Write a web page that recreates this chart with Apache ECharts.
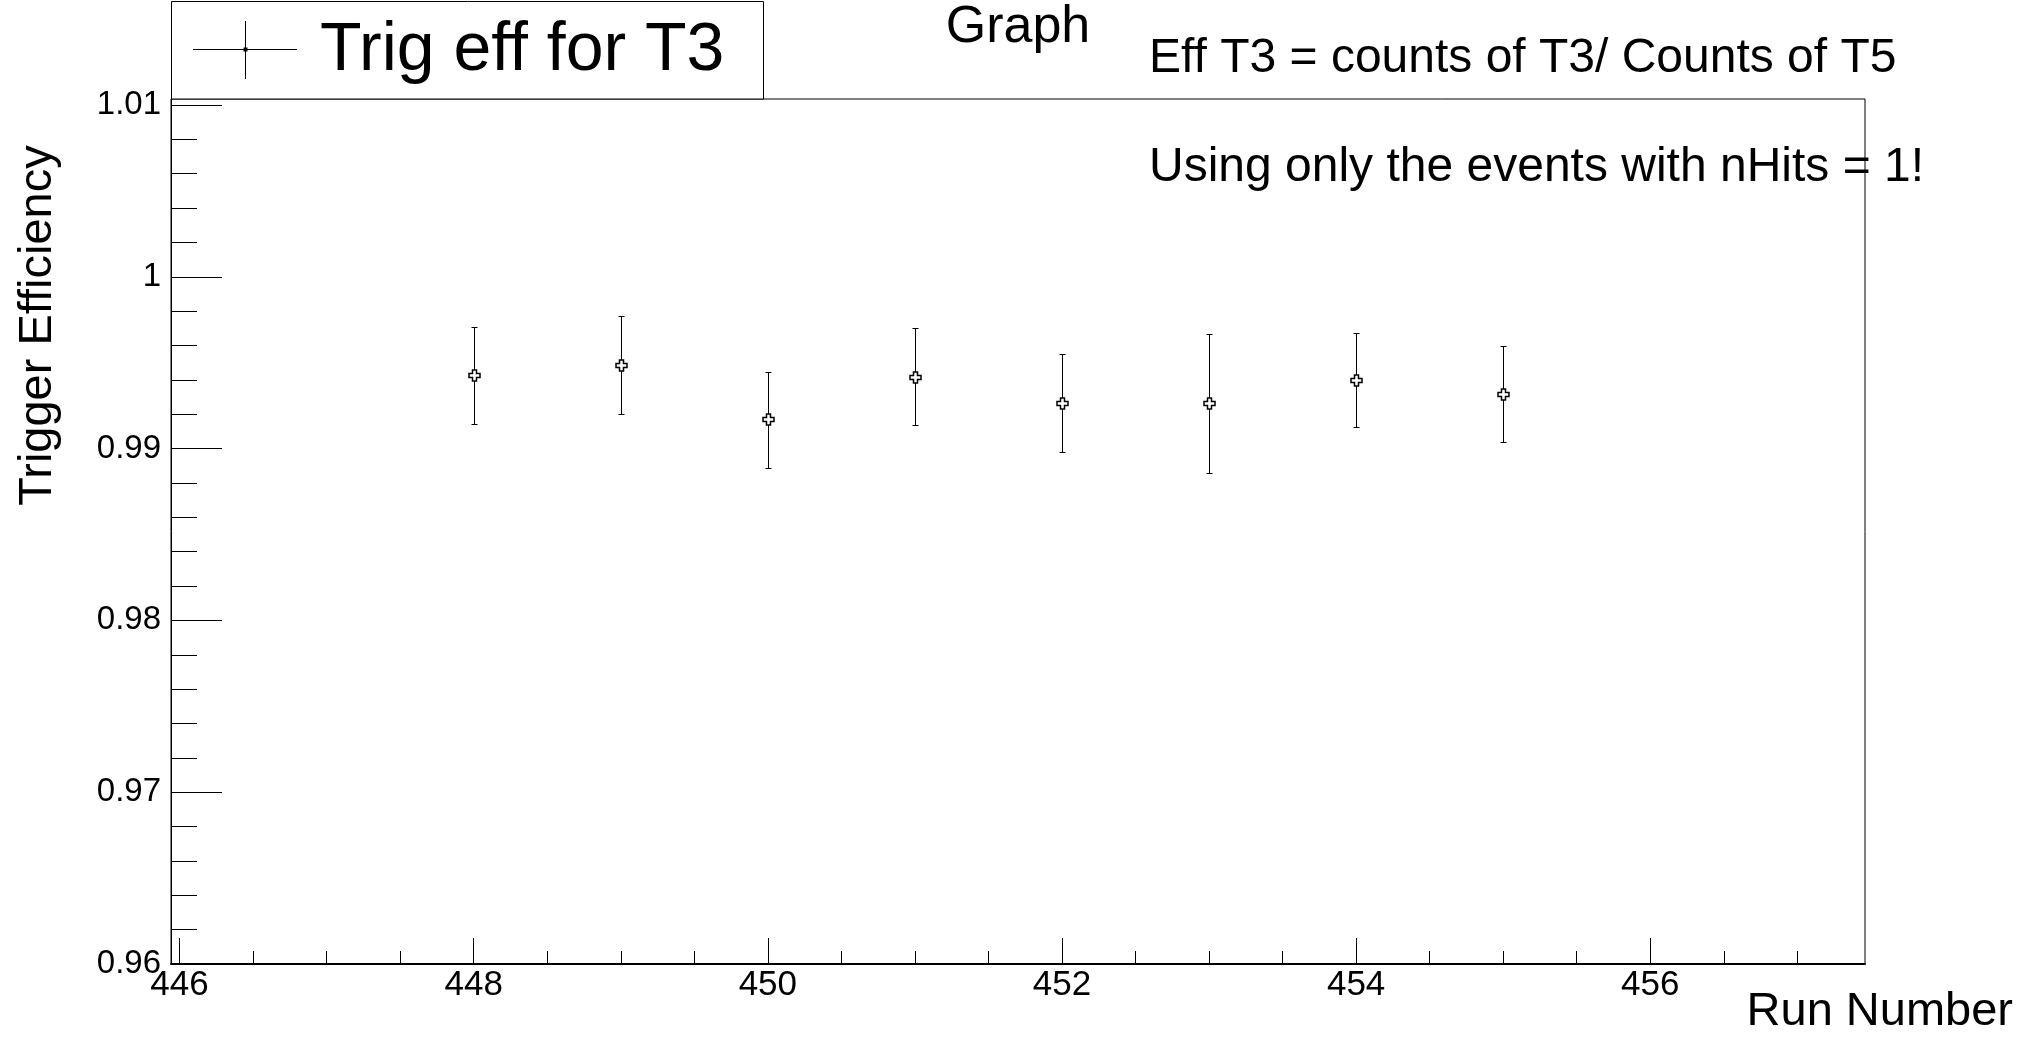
<!DOCTYPE html>
<html>
<head>
<meta charset="utf-8">
<script src="https://cdn.jsdelivr.net/npm/echarts@6/dist/echarts.min.js"></script>
<style>
  html, body { margin: 0; padding: 0; background: #fff; }
  #chart { width: 2035px; height: 1040px; }
</style>
</head>
<body>
<div id="chart"></div>
<script>
// Trigger efficiency of T3 per run (asymmetric errors)
const runNumbers = [448, 449, 450, 451, 452, 453, 454, 455];
const efficiency = [0.99427, 0.99485, 0.99170, 0.99419, 0.99263, 0.99263, 0.99399, 0.99316];
const errorHigh  = [0.00283, 0.00284, 0.00276, 0.00283, 0.00288, 0.00406, 0.00276, 0.00283];
const errorLow   = [0.00284, 0.00284, 0.00284, 0.00284, 0.00281, 0.00404, 0.00275, 0.00276];

// Axis ticks
const xMajorTicks = [446, 448, 450, 452, 454, 456];
const xMinorTicks = [446.5, 447, 447.5, 448.5, 449, 449.5, 450.5, 451, 451.5,
                     452.5, 453, 453.5, 454.5, 455, 455.5, 456.5, 457];
const yMajorTicks = [0.96, 0.97, 0.98, 0.99, 1.00, 1.01];
const yMinorTicks = [0.962, 0.964, 0.966, 0.968, 0.972, 0.974, 0.976, 0.978,
                     0.982, 0.984, 0.986, 0.988, 0.992, 0.994, 0.996, 0.998,
                     1.002, 1.004, 1.006, 1.008];

const FONT = 'Liberation Sans, Arial, sans-serif';
const X_MIN = 445.942, X_MAX = 457.46;
const Y_MIN = 0.96, Y_MAX = 1.01035;

// baseline offset for middle-aligned text
const mid = (baseline, size) => baseline - 0.31 * size;

const chart = echarts.init(document.getElementById('chart'), null, { renderer: 'canvas' });

const option = {
  animation: false,
  backgroundColor: '#fff',
  grid: {
    left: 171, right: 170, top: 99, bottom: 76,
    show: true, borderColor: '#000', borderWidth: 1, backgroundColor: 'transparent'
  },
  xAxis: [
    {
      type: 'value', min: X_MIN, max: X_MAX, position: 'bottom',
      axisLine: { show: true, onZero: false, lineStyle: { color: '#000', width: 2 } },
      axisTick: { show: true, inside: true, length: 26, customValues: xMajorTicks,
                  lineStyle: { color: '#000', width: 1 } },
      axisLabel: { show: true, customValues: xMajorTicks, color: '#000', fontSize: 35,
                   fontFamily: FONT, margin: 4, formatter: v => String(v) },
      splitLine: { show: false }
    },
    {
      type: 'value', min: X_MIN, max: X_MAX, position: 'bottom',
      axisLine: { show: false },
      axisTick: { show: true, inside: true, length: 13, customValues: xMinorTicks,
                  lineStyle: { color: '#000', width: 1 } },
      axisLabel: { show: false },
      splitLine: { show: false }
    }
  ],
  yAxis: [
    {
      type: 'value', min: Y_MIN, max: Y_MAX, position: 'left',
      axisLine: { show: true, onZero: false, lineStyle: { color: '#000', width: 1 } },
      axisTick: { show: true, inside: true, length: 51, customValues: yMajorTicks,
                  lineStyle: { color: '#000', width: 1 } },
      axisLabel: { show: true, customValues: yMajorTicks, color: '#000', fontSize: 33,
                   fontFamily: FONT, margin: 10,
                   formatter: v => String(parseFloat(v.toFixed(3))) },
      splitLine: { show: false }
    },
    {
      type: 'value', min: Y_MIN, max: Y_MAX, position: 'left',
      axisLine: { show: false },
      axisTick: { show: true, inside: true, length: 26, customValues: yMinorTicks,
                  lineStyle: { color: '#000', width: 1 } },
      axisLabel: { show: false },
      splitLine: { show: false }
    }
  ],
  series: [
    {
      name: 'Trig eff for T3',
      type: 'custom',
      xAxisIndex: 0,
      yAxisIndex: 0,
      data: runNumbers.map((r, i) => [r, efficiency[i], efficiency[i] - errorLow[i], efficiency[i] + errorHigh[i]]),
      renderItem: function (params, api) {
        const c = api.coord([api.value(0), api.value(1)]);
        const lo = api.coord([api.value(0), api.value(2)]);
        const hi = api.coord([api.value(0), api.value(3)]);
        const x = Math.round(c[0]) + 0.5;
        const y = Math.round(c[1]) + 0.5;
        const m = 5.5, a = 2, cap = 3;
        const stroke = { stroke: '#000', lineWidth: 1 };
        const yHi = Math.round(hi[1]) + 0.5;
        const yLo = Math.round(lo[1]) + 0.5;
        const cross = [
          [-a, -m], [a, -m], [a, -a], [m, -a], [m, a], [a, a],
          [a, m], [-a, m], [-a, a], [-m, a], [-m, -a], [-a, -a]
        ].map(p => [x + p[0], y + p[1]]);
        return {
          type: 'group',
          children: [
            { type: 'line', shape: { x1: x, y1: yHi, x2: x, y2: y - m }, style: stroke },
            { type: 'line', shape: { x1: x, y1: y + m, x2: x, y2: yLo }, style: stroke },
            { type: 'line', shape: { x1: x - cap, y1: yHi, x2: x + cap, y2: yHi }, style: stroke },
            { type: 'line', shape: { x1: x - cap, y1: yLo, x2: x + cap, y2: yLo }, style: stroke },
            { type: 'polygon', shape: { points: cross }, style: { fill: '#fff', stroke: '#000', lineWidth: 1.5 } }
          ]
        };
      }
    }
  ],
  graphic: [
    // legend box
    { type: 'rect', z: 10, shape: { x: 171.5, y: 1.5, width: 592, height: 97.5 },
      style: { fill: '#fff', stroke: '#000', lineWidth: 1 } },
    { type: 'line', z: 11, shape: { x1: 193, y1: 49.5, x2: 297, y2: 49.5 },
      style: { stroke: '#000', lineWidth: 1 } },
    { type: 'line', z: 11, shape: { x1: 245.5, y1: 21, x2: 245.5, y2: 79 },
      style: { stroke: '#000', lineWidth: 1 } },
    { type: 'rect', z: 12, shape: { x: 243.5, y: 47.5, width: 4, height: 4 },
      style: { fill: '#000' } },
    { type: 'text', z: 11, x: 320, y: mid(72, 68),
      style: { text: 'Trig eff for T3', font: '68px ' + FONT, fill: '#000',
               textAlign: 'left', verticalAlign: 'middle' } },
    // title
    { type: 'text', z: 11, x: 1018, y: mid(44, 52),
      style: { text: 'Graph', font: '52px ' + FONT, fill: '#000',
               textAlign: 'center', verticalAlign: 'middle' } },
    // notes
    { type: 'text', z: 11, x: 1149, y: mid(74, 48),
      style: { text: 'Eff T3 = counts of T3/ Counts of T5', font: '48px ' + FONT, fill: '#000',
               textAlign: 'left', verticalAlign: 'middle' } },
    { type: 'text', z: 11, x: 1149, y: mid(183, 48),
      style: { text: 'Using only the events with nHits = 1!', font: '48px ' + FONT, fill: '#000',
               textAlign: 'left', verticalAlign: 'middle' } },
    // axis titles
    { type: 'text', z: 11, x: 2013, y: mid(1027, 47),
      style: { text: 'Run Number', font: '47px ' + FONT, fill: '#000',
               textAlign: 'right', verticalAlign: 'middle' } },
    { type: 'text', z: 11, x: 53 - 0.31 * 47, y: 325.5, rotation: Math.PI / 2,
      style: { text: 'Trigger Efficiency', font: '47px ' + FONT, fill: '#000',
               textAlign: 'center', verticalAlign: 'middle' } }
  ]
};

chart.setOption(option);
</script>
</body>
</html>
